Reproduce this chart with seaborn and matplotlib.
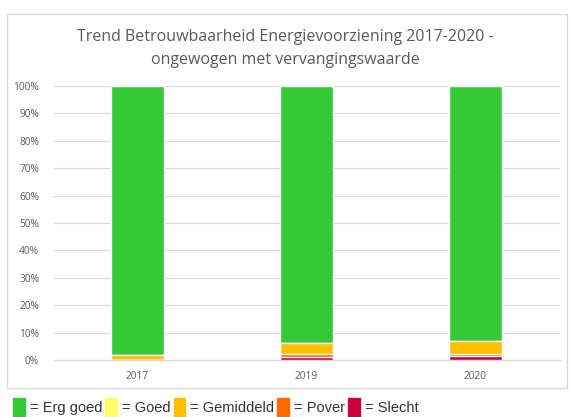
import matplotlib.pyplot as plt
import matplotlib.patches as mpatches
import numpy as np
import pandas as pd
import seaborn as sns

### Data ###
years = ['2017', '2019', '2020']
slecht = [0.0, 1.0, 1.4]
pover = [0.0, 1.1, 0.8]
gemiddeld = [1.9, 4.0, 4.8]
goed = [0.0, 0.0, 0.0]
erg_goed = [100 - s - p - g - gd for s, p, g, gd in zip(slecht, pover, gemiddeld, goed)]

labels = ['Erg goed', 'Goed', 'Gemiddeld', 'Pover', 'Slecht']
colors = ['#37c837', '#ffff66', '#ffc000', '#ff6a00', '#c8003c']

df = pd.DataFrame({'jaar': years, 'Erg goed': erg_goed, 'Goed': goed,
                   'Gemiddeld': gemiddeld, 'Pover': pover, 'Slecht': slecht})

# cumulative heights, bottom-up: Slecht, Pover, Gemiddeld, Goed, Erg goed
order = ['Slecht', 'Pover', 'Gemiddeld', 'Goed', 'Erg goed']
cum = df[order].cumsum(axis=1)

sns.set_style('white')
plt.rcParams['font.family'] = ['Open Sans', 'DejaVu Sans']

fig = plt.figure(figsize=(5.7, 4.17), dpi=100)
ax = fig.add_axes([53 / 570, 1 - 360 / 417, 507 / 570, 274 / 417])

# chart frame
fig.patches.append(mpatches.Rectangle((7 / 570, 1 - 388 / 417), 560 / 570, 374 / 417,
                                      transform=fig.transFigure, fill=False,
                                      edgecolor='#d9d9d9', linewidth=1.0, zorder=0))

col_of = dict(zip(labels, colors))
for name in reversed(order):
    sns.barplot(x=df['jaar'], y=cum[name], color=col_of[name], width=0.31,
                saturation=1, ax=ax, zorder=3)

ax.set_ylim(0, 100)
ax.set_yticks(np.arange(0, 101, 10))
ax.set_yticklabels([f'{v}%' for v in range(0, 101, 10)])
ax.yaxis.grid(True, color='#d9d9d9', linewidth=0.8)
ax.set_axisbelow(True)
for s in ['top', 'right', 'left']:
    ax.spines[s].set_visible(False)
ax.spines['bottom'].set_color('#d9d9d9')
ax.tick_params(axis='both', length=0, labelsize=7.3, colors='#595959', pad=8)
ax.tick_params(axis='y', pad=10)
ax.set_xlabel('')
ax.set_ylabel('')

fig.text(0.5, 1 - 37 / 417, 'Trend Betrouwbaarheid Energievoorziening 2017-2020 -',
         ha='center', va='center', fontsize=11.5, color='#595959')
fig.text(0.5, 1 - 60 / 417, 'ongewogen met vervangingswaarde',
         ha='center', va='center', fontsize=11.5, color='#595959')

handles = [mpatches.Patch(color=c) for c in colors]
fig.legend(handles, ['= ' + l for l in labels], loc='lower left',
           bbox_to_anchor=(0.0, -0.03), ncol=5, frameon=False,
           handlelength=0.8, handleheight=1.6, handletextpad=0.35,
           columnspacing=0.2, prop={'family': 'Liberation Sans', 'size': 10.5},
           labelcolor='#333333')

fig.savefig('out.png', dpi=100)
